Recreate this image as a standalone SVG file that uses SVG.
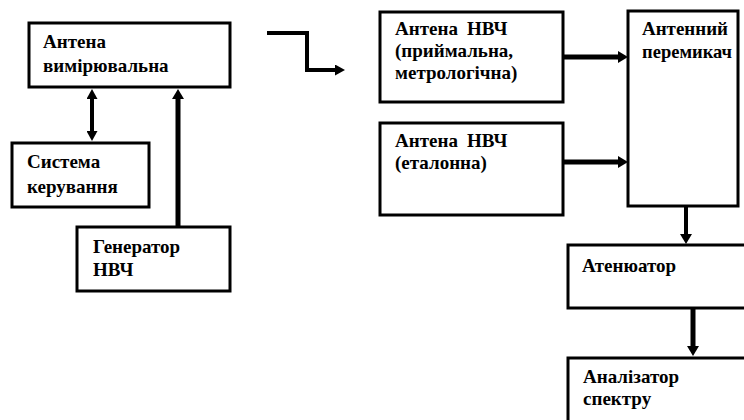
<svg xmlns="http://www.w3.org/2000/svg" width="744" height="420" viewBox="0 0 744 420">
<style>
.box{fill:#fff;stroke:#000;stroke-width:3}
.t{font-family:'Liberation Serif','Times New Roman',serif;font-weight:bold;font-size:19px;fill:#000}
.c{stroke:#000;fill:none}
</style>
<defs>
<marker id="ah" markerUnits="userSpaceOnUse" markerWidth="12" markerHeight="12" refX="2" refY="6" orient="auto-start-reverse" viewBox="0 0 12 12">
<path d="M0,0 L10,6 L0,12 z" fill="#000"/>
</marker>
<marker id="ahs" markerUnits="userSpaceOnUse" markerWidth="11" markerHeight="11" refX="2" refY="5.5" orient="auto-start-reverse" viewBox="0 0 11 11">
<path d="M0,0 L10,5.5 L0,11 z" fill="#000"/>
</marker>
</defs>
<rect width="744" height="420" fill="#fff"/>
<g id="connectors">
<line class="c" x1="92" y1="97" x2="92" y2="133" stroke-width="4" marker-start="url(#ahs)" marker-end="url(#ahs)"/>
<line class="c" x1="178" y1="227" x2="178" y2="97" stroke-width="5" marker-end="url(#ah)"/>
<polyline class="c" points="267,33 307,33 307,70 337,70" stroke-width="4" marker-end="url(#ahs)"/>
<line class="c" x1="563" y1="57" x2="620" y2="57" stroke-width="5" marker-end="url(#ah)"/>
<line class="c" x1="563" y1="162" x2="620" y2="162" stroke-width="5" marker-end="url(#ah)"/>
<line class="c" x1="686" y1="206" x2="686" y2="236" stroke-width="4" marker-end="url(#ah)"/>
<line class="c" x1="693" y1="308" x2="693" y2="348" stroke-width="5" marker-end="url(#ah)"/>
</g>
<g id="antenna-meas">
<rect class="box" x="29" y="23" width="201" height="64"/>
<text class="t" x="43" y="48">Антена</text>
<text class="t" x="43" y="72">вимірювальна</text>
</g>
<g id="control-system">
<rect class="box" x="12" y="143" width="137" height="64"/>
<text class="t" x="27" y="168">Система</text>
<text class="t" x="27" y="193">керування</text>
</g>
<g id="generator">
<rect class="box" x="77" y="227" width="153" height="64"/>
<text class="t" x="93" y="253">Генератор</text>
<text class="t" x="93" y="276">НВЧ</text>
</g>
<g id="antenna-rx">
<rect class="box" x="380" y="12" width="183" height="90"/>
<text class="t" x="395" y="35">Антена <tspan x="467">НВЧ</tspan></text>
<text class="t" x="395" y="57">(приймальна,</text>
<text class="t" x="395" y="79">метрологічна)</text>
</g>
<g id="antenna-ref">
<rect class="box" x="380" y="123" width="183" height="92"/>
<text class="t" x="395" y="147">Антена <tspan x="467">НВЧ</tspan></text>
<text class="t" x="395" y="169">(еталонна)</text>
</g>
<g id="switch">
<rect class="box" x="628" y="11" width="110" height="195"/>
<text class="t" x="642" y="35" textLength="86" lengthAdjust="spacingAndGlyphs">Антенний</text>
<text class="t" x="642" y="58" textLength="90" lengthAdjust="spacingAndGlyphs">перемикач</text>
</g>
<g id="attenuator">
<rect class="box" x="568" y="245" width="190" height="63"/>
<text class="t" x="582" y="272">Атенюатор</text>
</g>
<g id="analyzer">
<rect class="box" x="568" y="358" width="190" height="80"/>
<text class="t" x="583" y="383">Аналізатор</text>
<text class="t" x="583" y="405">спектру</text>
</g>
</svg>
